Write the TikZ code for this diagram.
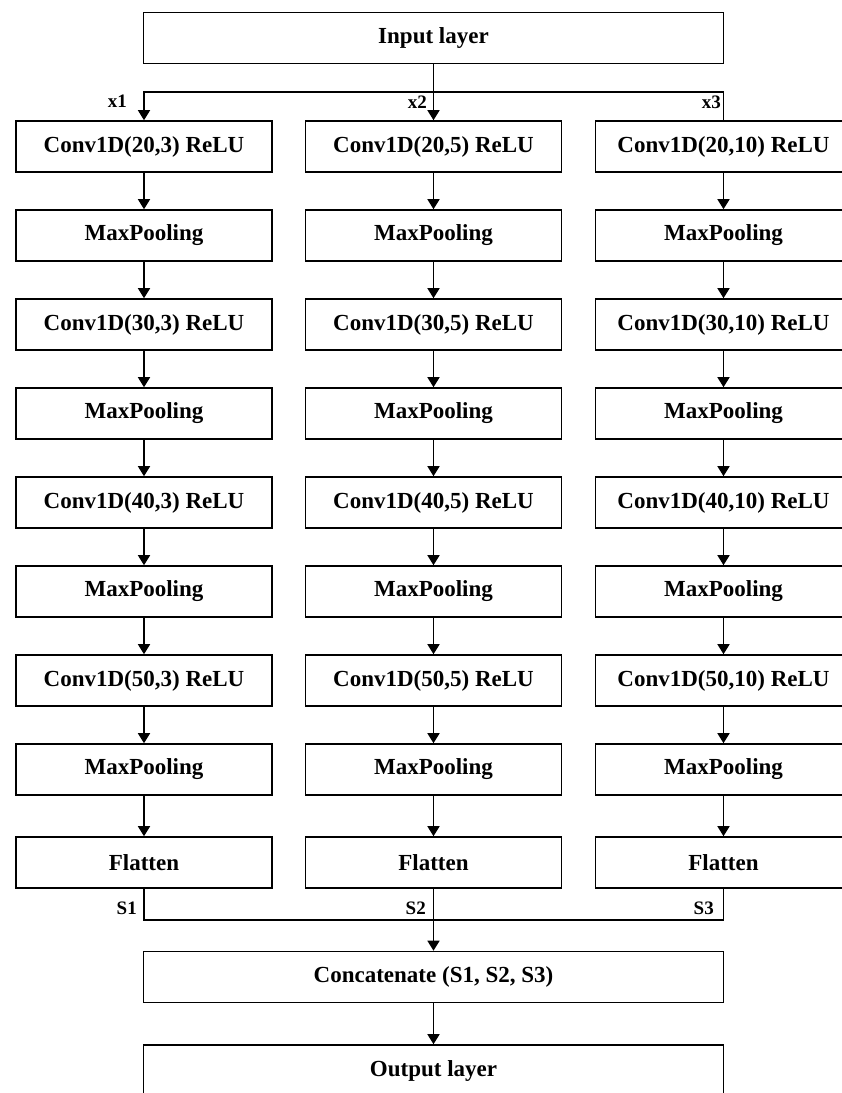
\documentclass[tikz,border=0pt]{standalone}
\usepackage{fontspec}
\setmainfont{Liberation Serif}
\usetikzlibrary{arrows.meta}
\begin{document}
\begin{tikzpicture}[x=1pt,y=-1pt,
  box/.style={draw,line width=1.6pt,minimum width=256pt,minimum height=51pt,inner sep=0pt,font=\fontsize{23}{27}\selectfont\bfseries},
  wide/.style={box,minimum width=580pt},
  arr/.style={line width=1.6pt,-{Triangle[width=12pt,length=10pt]}},
  ln/.style={line width=1.6pt},
  lab/.style={font=\fontsize{19}{23}\selectfont\bfseries,inner sep=0pt}]
\clip (0,0) rectangle (842,1093);
\node[wide] (in) at (433.5,38) {Input layer};
\foreach \c/\x/\k in {1/144/3, 2/433.5/5, 3/723.5/10} {
  \node[box] (c\c r1) at (\x,146.5) {Conv1D(20,\k) ReLU};
  \node[box] (c\c r2) at (\x,235.5) {MaxPooling};
  \node[box] (c\c r3) at (\x,324.5) {Conv1D(30,\k) ReLU};
  \node[box] (c\c r4) at (\x,413.5) {MaxPooling};
  \node[box] (c\c r5) at (\x,502.5) {Conv1D(40,\k) ReLU};
  \node[box] (c\c r6) at (\x,591.5) {MaxPooling};
  \node[box] (c\c r7) at (\x,680.5) {Conv1D(50,\k) ReLU};
  \node[box] (c\c r8) at (\x,769.5) {MaxPooling};
  \node[box] (c\c r9) at (\x,862.5) {Flatten};
  \foreach \i [evaluate=\i as \j using int(\i+1)] in {1,...,8}
    \draw[arr] (c\c r\i) -- (c\c r\j);
}
\node[wide] (cat) at (433.5,977) {Concatenate (S1, S2, S3)};
\node[wide] (out) at (433.5,1070.5) {Output layer};
\coordinate (b1) at (144,92);
\coordinate (b3) at (723.5,92);
\coordinate (j1) at (144,920);
\coordinate (j3) at (723.5,920);
\draw[arr] (in.south) -- (c2r1.north);
\draw[arr] (c3r1.north) -- (b3) -- (b1) -- (c1r1.north);
\draw[ln] (c1r9.south) -- (j1) -- (j3) -- (c3r9.south);
\draw[arr] (c2r9.south) -- (cat.north);
\draw[arr] (cat) -- (out);
\node[lab,anchor=east] (x1) at (127,101) {x1};
\node[lab,anchor=east] (x2) at (427,102) {x2};
\node[lab,anchor=east] (x3) at (721,102) {x3};
\node[lab,anchor=east] (s1) at (137,908) {S1};
\node[lab,anchor=east] (s2) at (426,908) {S2};
\node[lab,anchor=east] (s3) at (714,908) {S3};
\end{tikzpicture}
\end{document}
